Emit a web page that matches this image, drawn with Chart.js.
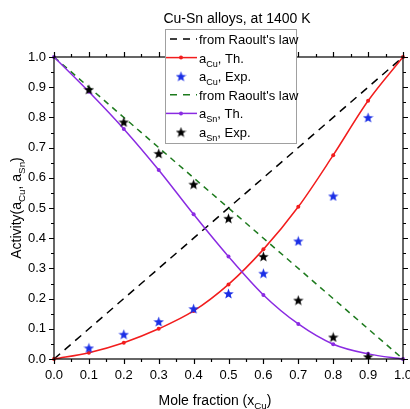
<!DOCTYPE html>
<html>
<head>
<meta charset="utf-8">
<script src="https://cdn.jsdelivr.net/npm/chart.js@4.4.1/dist/chart.umd.min.js"></script>
<style>
    body { margin: 0; background: #fff; }
    #wrap { width: 410px; height: 409px; }
</style>
</head>
<body>
<div id="wrap"><canvas id="activity_chart" width="410" height="409"></canvas></div>
<script>
// data
var molFrac = [0, 0.1, 0.2, 0.3, 0.4, 0.5, 0.6, 0.7, 0.8, 0.9, 1.0];
var cuTheory = [0, 0.021, 0.054, 0.100, 0.159, 0.247, 0.363, 0.504, 0.675, 0.855, 1.0];
var snTheory = [1.0, 0.885, 0.762, 0.626, 0.479, 0.339, 0.212, 0.116, 0.049, 0.017, 0];
var expFrac = [0.1, 0.2, 0.3, 0.4, 0.5, 0.6, 0.7, 0.8, 0.9];
var cuExp = [0.037, 0.082, 0.124, 0.167, 0.217, 0.284, 0.391, 0.540, 0.800];
var snExp = [0.893, 0.785, 0.681, 0.579, 0.466, 0.340, 0.195, 0.073, 0.008];
var raoultFrac = [0, 1];
var raoultCu = [0, 1];
var raoultSn = [1, 0];
var axisTicks = [0, 0.1, 0.2, 0.3, 0.4, 0.5, 0.6, 0.7, 0.8, 0.9, 1.0];

var FONT = '"Liberation Sans", Arial, sans-serif';

function pts(xs, ys) {
    return xs.map(function (v, i) { return { x: v, y: ys[i] }; });
}

// filled five point star used as point style
function makeStar(color, size) {
    var c = document.createElement('canvas');
    c.width = size; c.height = size;
    var g = c.getContext('2d');
    var cx = size / 2, cy = size / 2, ro = size / 2, ri = ro * 0.42;
    g.beginPath();
    for (var i = 0; i < 10; i++) {
        var r = i % 2 === 0 ? ro : ri;
        var a = -Math.PI / 2 + i * Math.PI / 5;
        g.lineTo(cx + r * Math.cos(a), cy + r * Math.sin(a) + 0.6);
    }
    g.closePath();
    g.fillStyle = color;
    g.fill();
    return c;
}

var blueStar = makeStar('#1a2ee6', 11);
var blackStar = makeStar('#000000', 11);

// draws text with a subscript part: parts = [[text, isSub], ...]
function subText(ctx, parts, x, y, size, align) {
    var w = 0, i;
    for (i = 0; i < parts.length; i++) {
        ctx.font = (parts[i][1] ? size * 0.7 : size) + 'px ' + FONT;
        w += ctx.measureText(parts[i][0]).width;
    }
    var cx = align === 'center' ? x - w / 2 : x;
    ctx.textAlign = 'left';
    ctx.textBaseline = 'alphabetic';
    for (i = 0; i < parts.length; i++) {
        ctx.font = (parts[i][1] ? size * 0.7 : size) + 'px ' + FONT;
        ctx.fillText(parts[i][0], cx, parts[i][1] ? y + size * 0.3 : y);
        cx += ctx.measureText(parts[i][0]).width;
    }
}

var framePlugin = {
    id: 'frame',
    afterDraw: function (chart) {
        var ctx = chart.ctx, a = chart.chartArea;
        var xs = chart.scales.x, ys = chart.scales.y;
        ctx.save();
        ctx.strokeStyle = '#000';
        ctx.lineWidth = 1.2;
        ctx.strokeRect(a.left, a.top, a.right - a.left, a.bottom - a.top);
        ctx.beginPath();
        for (var i = 0; i <= 20; i++) {
            var v = i / 20, len = i % 2 === 0 ? 5 : 3;
            var px = Math.round(xs.getPixelForValue(v)) + 0.5;
            var py = Math.round(ys.getPixelForValue(v)) + 0.5;
            ctx.moveTo(px, a.bottom); ctx.lineTo(px, a.bottom + len);
            ctx.moveTo(px, a.top); ctx.lineTo(px, a.top - len);
            ctx.moveTo(a.left, py); ctx.lineTo(a.left - len, py);
            ctx.moveTo(a.right, py); ctx.lineTo(a.right + len, py);
        }
        ctx.stroke();

        // tick labels
        ctx.fillStyle = '#000';
        ctx.font = '13px ' + FONT;
        axisTicks.forEach(function (t) {
            ctx.textAlign = 'center';
            ctx.textBaseline = 'top';
            ctx.fillText(t.toFixed(1), xs.getPixelForValue(t), a.bottom + 10);
            ctx.textAlign = 'right';
            ctx.textBaseline = 'middle';
            ctx.fillText(t.toFixed(1), a.left - 8, ys.getPixelForValue(t));
        });

        // titles
        ctx.font = '14px ' + FONT;
        ctx.textAlign = 'center';
        ctx.textBaseline = 'alphabetic';
        ctx.fillText('Cu-Sn alloys, at 1400 K', 237, 23);
        subText(ctx, [['Mole fraction (x', false], ['Cu', true], [')', false]], 215, 405, 14, 'center');
        ctx.save();
        ctx.translate(21, (a.top + a.bottom) / 2);
        ctx.rotate(-Math.PI / 2);
        subText(ctx, [['Activity(a', false], ['Cu', true], [', a', false], ['Sn', true], [')', false]], 0, 0, 14, 'center');
        ctx.restore();

        // legend box
        var lx = 165, ly = 29, lw = 131, lh = 114;
        ctx.fillStyle = '#fff';
        ctx.fillRect(lx, ly, lw, lh);
        ctx.strokeStyle = '#a0a0a0';
        ctx.lineWidth = 1;
        ctx.strokeRect(lx + 0.5, ly + 0.5, lw, lh);
        var rows = [
            { kind: 'dash', color: '#000', label: [["from Raoult's law", false]] },
            { kind: 'line', color: '#f21d1d', label: [['a', false], ['Cu', true], [', Th.', false]] },
            { kind: 'star', img: blueStar, label: [['a', false], ['Cu', true], [', Exp.', false]] },
            { kind: 'dash', color: '#1d7a1d', label: [["from Raoult's law", false]] },
            { kind: 'line', color: '#8a2be2', label: [['a', false], ['Sn', true], [', Th.', false]] },
            { kind: 'star', img: blackStar, label: [['a', false], ['Sn', true], [', Exp.', false]] }
        ];
        rows.forEach(function (r, k) {
            var cy = 39 + k * 18.6;
            if (r.kind === 'dash') {
                ctx.strokeStyle = r.color;
                ctx.lineWidth = 1.5;
                ctx.setLineDash([7, 6]);
                ctx.beginPath(); ctx.moveTo(170, cy); ctx.lineTo(197, cy); ctx.stroke();
                ctx.setLineDash([]);
            } else if (r.kind === 'line') {
                ctx.strokeStyle = r.color;
                ctx.fillStyle = r.color;
                ctx.lineWidth = 1.5;
                ctx.beginPath(); ctx.moveTo(166, cy); ctx.lineTo(197, cy); ctx.stroke();
                ctx.beginPath(); ctx.arc(181, cy, 2, 0, Math.PI * 2); ctx.fill();
            } else {
                ctx.drawImage(r.img, 181 - 5.5, cy - 5.5);
            }
            ctx.fillStyle = '#000';
            subText(ctx, r.label, 199, cy + 5, 13, 'left');
        });
        ctx.restore();
    }
};

new Chart(document.getElementById('activity_chart').getContext('2d'), {
    type: 'scatter',
    data: {
        datasets: [{
            label: "from Raoult's law",
            data: pts(raoultFrac, raoultCu),
            showLine: true,
            borderColor: '#000',
            borderWidth: 1.5,
            borderDash: [8, 6],
            pointRadius: 0,
            order: 5
        }, {
            label: 'aCu, Th.',
            data: pts(molFrac, cuTheory),
            showLine: true,
            cubicInterpolationMode: 'monotone',
            borderColor: '#f21d1d',
            backgroundColor: '#f21d1d',
            borderWidth: 1.5,
            pointRadius: 2,
            pointBorderWidth: 0,
            clip: 6,
            order: 3
        }, {
            label: 'aCu, Exp.',
            data: pts(expFrac, cuExp),
            pointStyle: blueStar,
            order: 1
        }, {
            label: "from Raoult's law",
            data: pts(raoultFrac, raoultSn),
            showLine: true,
            borderColor: '#1d7a1d',
            borderWidth: 1.5,
            borderDash: [6, 5],
            pointRadius: 0,
            order: 4
        }, {
            label: 'aSn, Th.',
            data: pts(molFrac, snTheory),
            showLine: true,
            cubicInterpolationMode: 'monotone',
            borderColor: '#8a2be2',
            backgroundColor: '#8a2be2',
            borderWidth: 1.5,
            pointRadius: 2,
            pointBorderWidth: 0,
            clip: 6,
            order: 2
        }, {
            label: 'aSn, Exp.',
            data: pts(expFrac, snExp),
            pointStyle: blackStar,
            order: 0
        }]
    },
    options: {
        responsive: false,
        animation: false,
        events: [],
        layout: { autoPadding: false, padding: { top: 57, right: 7, left: 0, bottom: 0 } },
        plugins: {
            legend: { display: false },
            tooltip: { enabled: false }
        },
        scales: {
            x: {
                type: 'linear',
                min: 0, max: 1,
                afterFit: function (s) { s.height = 50; },
                grid: { display: false, drawTicks: false },
                border: { display: false },
                ticks: { display: false }
            },
            y: {
                type: 'linear',
                min: 0, max: 1,
                afterFit: function (s) { s.width = 54; },
                grid: { display: false, drawTicks: false },
                border: { display: false },
                ticks: { display: false }
            }
        }
    },
    plugins: [framePlugin]
});
</script>
</body>
</html>
